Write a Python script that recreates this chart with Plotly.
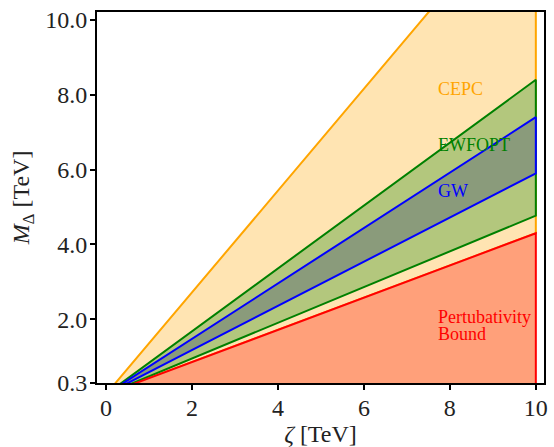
import plotly.graph_objects as go

# Data: line endpoints (zeta in TeV, M_Delta in TeV)
zeta = [0.0, 10.0]
cepc_upper = [0.0, 13.6]
ewfopt_upper = [0.0, 8.4]
gw_upper = [0.0, 7.4]
gw_lower = [0.0, 5.9]
ewfopt_lower = [0.0, 4.77]
pert_bound = [0.0, 4.3]
floor = [0.0, 0.0]

x_ticks = [0, 2, 4, 6, 8, 10]
y_ticks = [0.3, 2.0, 4.0, 6.0, 8.0, 10.0]
y_ticktext = ["0.3", "2.0", "4.0", "6.0", "8.0", "10.0"]

FONT = "Liberation Serif"


def band(upper, lower, edge, fill):
    xs = zeta + zeta[::-1] + [zeta[0]]
    ys = upper + lower[::-1] + [upper[0]]
    return go.Scatter(x=xs, y=ys, mode="lines", fill="toself",
                      fillcolor=fill, line=dict(color=edge, width=2),
                      hoverinfo="skip", showlegend=False)


fig = go.Figure()
fig.add_trace(band(cepc_upper, pert_bound, "#FFA500", "#FFE4B2"))
fig.add_trace(band(ewfopt_upper, ewfopt_lower, "#008000", "#B3C77D"))
fig.add_trace(band(gw_upper, gw_lower, "#0000FF", "#8A9B7B"))
fig.add_trace(band(pert_bound, floor, "#FF0000", "#FFA07A"))

ann = [
    ("CEPC", 8.16, "#FFA500"),
    ("EWFOPT", 6.65, "#008000"),
    ("GW", 5.44, "#0000FF"),
    ("Pertubativity", 2.07, "#FF0000"),
    ("Bound", 1.62, "#FF0000"),
]
for txt, yv, col in ann:
    fig.add_annotation(x=7.7, y=yv, text=txt, showarrow=False, xanchor="left",
                       yanchor="middle", borderpad=0,
                       font=dict(family=FONT, size=18, color=col))

axis_common = dict(showline=True, linecolor="black", linewidth=2, mirror=True,
                   ticks="outside", ticklen=5, tickwidth=1.5, tickcolor="black",
                   showgrid=False, zeroline=False, automargin=False,
                   ticklabeloverflow="allow",
                   tickfont=dict(family=FONT, size=24, color="#222"))

fig.update_xaxes(range=[-0.21, 10.19], tickvals=x_ticks, ticklabelstandoff=-3,
                 title=dict(text="<i>ζ</i> [TeV]", font=dict(family=FONT, size=24, color="#222"), standoff=5),
                 **axis_common)
fig.update_yaxes(range=[0.3, 10.21], tickvals=y_ticks, ticktext=y_ticktext,
                 ticklabelstandoff=-2,
                 title=dict(text="<i>M</i><sub>Δ</sub> [TeV]", font=dict(family=FONT, size=24, color="#222"), standoff=9),
                 **axis_common)

fig.update_layout(width=554, height=447, margin=dict(l=97, r=10, t=12, b=64),
                  plot_bgcolor="white", paper_bgcolor="white", showlegend=False,
                  hovermode=False)

# remove the default page margin so the figure fills the window exactly
fig.write_html("out.html", config={"displayModeBar": False},
               post_script="document.body.style.margin='0';")
